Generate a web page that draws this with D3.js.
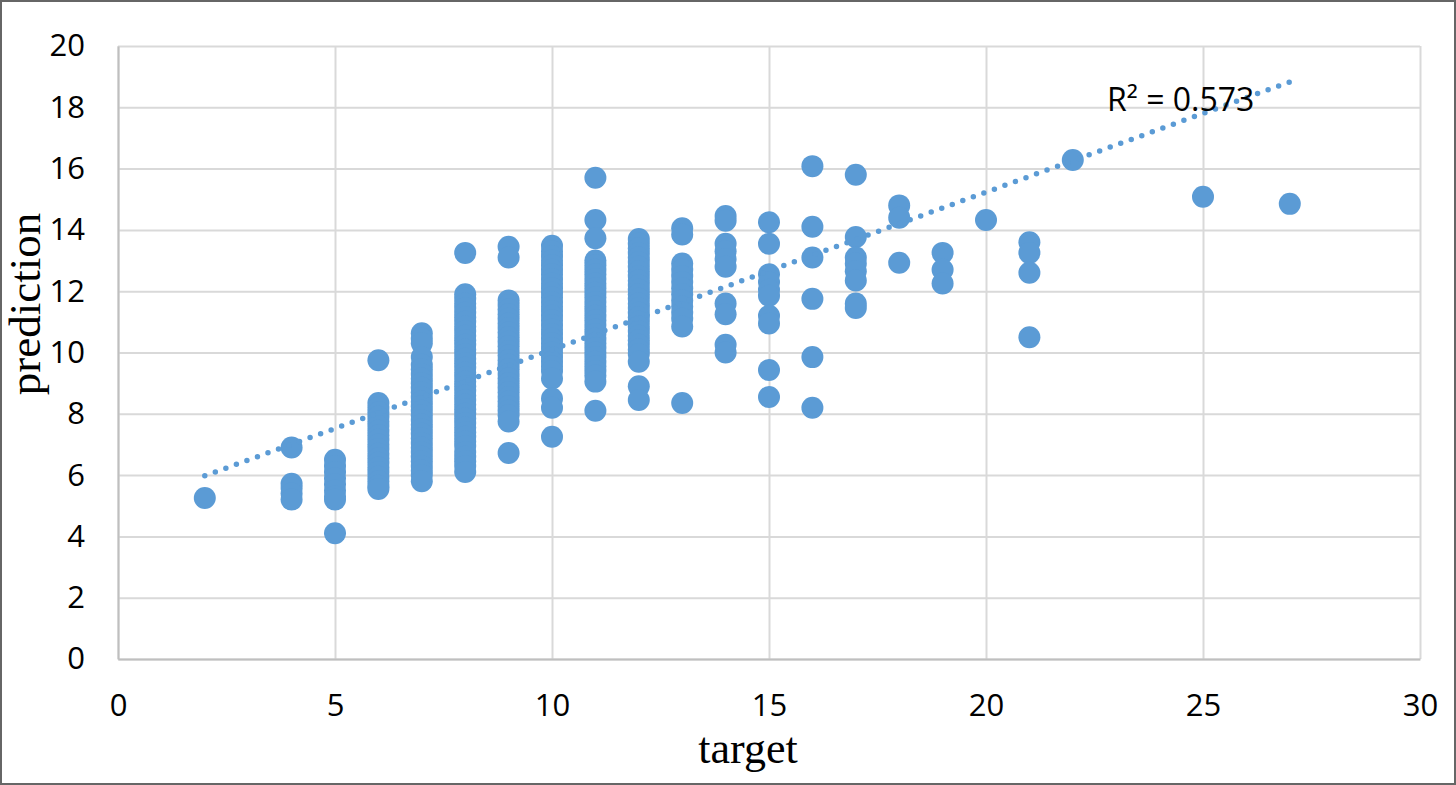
<!DOCTYPE html>
<html>
<head>
<meta charset="utf-8">
<script src="https://cdn.jsdelivr.net/npm/d3@7"></script>
<style>
  body { margin: 0; background: #fff; }
  svg { display: block; }
</style>
</head>
<body>
<div id="chart"></div>
<script>
var targetLevels = [2, 4, 5, 6, 7, 8, 9, 10, 11, 12, 13, 14, 15, 16, 17, 18, 19, 20, 21, 22, 25, 27];
var predictionLevels = [
    [5.25],
    [6.9, 5.72, 5.58, 5.4, 5.2],
    [6.5, 6.3, 6.1, 5.9, 5.7, 5.5, 5.3, 5.2, 4.1],
    [9.75, 8.35, 8.2, 8.05, 7.9, 7.75, 7.6, 7.45, 7.3, 7.15, 7.0, 6.85, 6.7, 6.55, 6.4, 6.25, 6.1, 5.95, 5.8, 5.65, 5.55],
    [10.63, 10.45, 10.3, 9.85, 9.6, 9.45, 9.3, 9.15, 9.0, 8.85, 8.7, 8.55, 8.4, 8.25, 8.1, 7.95, 7.8, 7.65, 7.5, 7.35, 7.2, 7.05, 6.9, 6.75, 6.6, 6.45, 6.3, 6.15, 6.0, 5.8],
    [13.25, 11.9, 11.75, 11.6, 11.45, 11.3, 11.15, 11.0, 10.85, 10.7, 10.55, 10.4, 10.25, 10.1, 9.95, 9.8, 9.65, 9.5, 9.35, 9.2, 9.05, 8.9, 8.75, 8.6, 8.45, 8.3, 8.15, 8.0, 7.85, 7.7, 7.55, 7.4, 7.25, 7.1, 6.95, 6.75, 6.6, 6.45, 6.3, 6.1],
    [13.45, 13.1, 11.7, 11.55, 11.4, 11.25, 11.1, 10.95, 10.8, 10.65, 10.5, 10.35, 10.2, 10.05, 9.9, 9.75, 9.6, 9.45, 9.3, 9.15, 9.0, 8.85, 8.7, 8.55, 8.4, 8.25, 8.1, 7.95, 7.75, 6.72],
    [13.48, 13.3, 13.15, 13.0, 12.85, 12.7, 12.55, 12.4, 12.25, 12.1, 11.95, 11.8, 11.65, 11.5, 11.35, 11.2, 11.05, 10.9, 10.75, 10.6, 10.45, 10.3, 10.15, 10.0, 9.85, 9.7, 9.55, 9.4, 9.15, 8.5, 8.2, 7.25],
    [15.7, 14.32, 13.73, 13.0, 12.85, 12.7, 12.55, 12.4, 12.25, 12.1, 11.95, 11.8, 11.65, 11.5, 11.35, 11.2, 11.05, 10.9, 10.75, 10.6, 10.45, 10.3, 10.15, 10.0, 9.85, 9.7, 9.55, 9.4, 9.25, 9.05, 8.1],
    [13.7, 13.55, 13.4, 13.25, 13.1, 12.95, 12.8, 12.65, 12.5, 12.35, 12.2, 12.05, 11.9, 11.75, 11.6, 11.45, 11.3, 11.15, 11.0, 10.85, 10.7, 10.55, 10.4, 10.25, 10.1, 9.95, 9.7, 8.9, 8.45],
    [14.05, 13.85, 12.9, 12.7, 12.5, 12.3, 12.1, 11.9, 11.7, 11.5, 11.3, 11.1, 10.85, 8.35],
    [14.45, 14.3, 13.55, 13.3, 13.05, 12.8, 11.6, 11.25, 10.25, 10.0],
    [14.25, 13.55, 12.55, 12.3, 12.05, 11.85, 11.2, 10.95, 9.43, 8.55],
    [16.08, 14.1, 13.1, 11.75, 9.85, 8.2],
    [15.8, 13.77, 13.1, 12.9, 12.65, 12.35, 11.6, 11.45],
    [14.8, 14.4, 12.93],
    [13.25, 12.7, 12.25],
    [14.32],
    [13.6, 13.25, 12.6, 10.5],
    [16.28],
    [15.08],
    [14.85]
];

// linear trendline
var trendSlope = 0.514;
var trendIntercept = 4.95;
var trendLabel = "R² = 0.573";

var xTicks = [0, 5, 10, 15, 20, 25, 30];
var yTicks = [0, 2, 4, 6, 8, 10, 12, 14, 16, 18, 20];

// flatten into points
var points = [];
for (var i = 0; i < targetLevels.length; i++) {
    for (var j = 0; j < predictionLevels[i].length; j++) {
        points.push({ target: targetLevels[i], prediction: predictionLevels[i][j] });
    }
}

var W = 1456, H = 785;
var margin = { top: 46, right: 36, bottom: 126, left: 118 },
    width = W - margin.left - margin.right,
    height = H - margin.top - margin.bottom;

var svgRoot = d3.select("#chart")
    .append("svg")
    .attr("width", W)
    .attr("height", H);

// outer frame
svgRoot.append("rect")
    .attr("x", 1).attr("y", 1)
    .attr("width", W - 2).attr("height", H - 2)
    .attr("fill", "#fff")
    .attr("stroke", "#666")
    .attr("stroke-width", 2);

var svg = svgRoot.append("g")
    .attr("transform", "translate(" + margin.left + "," + margin.top + ")");

var x = d3.scaleLinear().domain([0, 30]).range([0, width]);
var y = d3.scaleLinear().domain([0, 20]).range([height, 0]);

var tickFont = "'Open Sans', sans-serif";

// grid lines
svg.append("g")
    .attr("class", "grid")
    .attr("transform", "translate(0," + height + ")")
    .call(d3.axisBottom(x).tickValues(xTicks).tickSize(-height).tickFormat(""))
    .call(function (g) { g.select(".domain").remove(); })
    .selectAll("line").attr("stroke", "#d9d9d9").attr("stroke-width", 2);

svg.append("g")
    .attr("class", "grid")
    .call(d3.axisLeft(y).tickValues(yTicks).tickSize(-width).tickFormat(""))
    .call(function (g) { g.select(".domain").remove(); })
    .selectAll("line").attr("stroke", "#d9d9d9").attr("stroke-width", 2);

// axes
var xAxis = svg.append("g")
    .attr("transform", "translate(0," + height + ")")
    .call(d3.axisBottom(x).tickValues(xTicks).tickSize(0).tickPadding(35));
xAxis.select(".domain").attr("stroke", "#bfbfbf").attr("stroke-width", 2);
xAxis.selectAll("text").attr("font-family", tickFont).attr("font-size", 31).attr("fill", "#000");

var yAxis = svg.append("g")
    .call(d3.axisLeft(y).tickValues(yTicks).tickSize(0).tickPadding(33));
yAxis.select(".domain").attr("stroke", "#bfbfbf").attr("stroke-width", 2);
yAxis.selectAll("text").attr("font-family", tickFont).attr("font-size", 31).attr("fill", "#000");

// points
svg.append("g")
    .selectAll("circle")
    .data(points)
    .enter()
    .append("circle")
    .attr("cx", function (d) { return x(d.target); })
    .attr("cy", function (d) { return y(d.prediction); })
    .attr("r", 11)
    .attr("fill", "#5b9bd5");

// dotted trendline over the data range
var tMin = d3.min(targetLevels), tMax = d3.max(targetLevels);
svg.append("line")
    .attr("x1", x(tMin)).attr("y1", y(trendIntercept + trendSlope * tMin))
    .attr("x2", x(tMax)).attr("y2", y(trendIntercept + trendSlope * tMax))
    .attr("stroke", "#5b9bd5")
    .attr("stroke-width", 5.5)
    .attr("stroke-linecap", "round")
    .attr("stroke-dasharray", "0 11.2");

svg.append("text")
    .attr("x", 1107 - margin.left)
    .attr("y", 111 - margin.top)
    .attr("font-family", tickFont)
    .attr("font-size", 32)
    .attr("fill", "#000")
    .text(trendLabel);

// axis titles
svgRoot.append("text")
    .attr("x", 748)
    .attr("y", 763)
    .attr("text-anchor", "middle")
    .attr("font-family", "'Liberation Serif', serif")
    .attr("font-size", 44)
    .text("target");

svgRoot.append("text")
    .attr("transform", "translate(40,304) rotate(-90)")
    .attr("text-anchor", "middle")
    .attr("font-family", "'Liberation Serif', serif")
    .attr("font-size", 45)
    .text("prediction");
</script>
</body>
</html>
